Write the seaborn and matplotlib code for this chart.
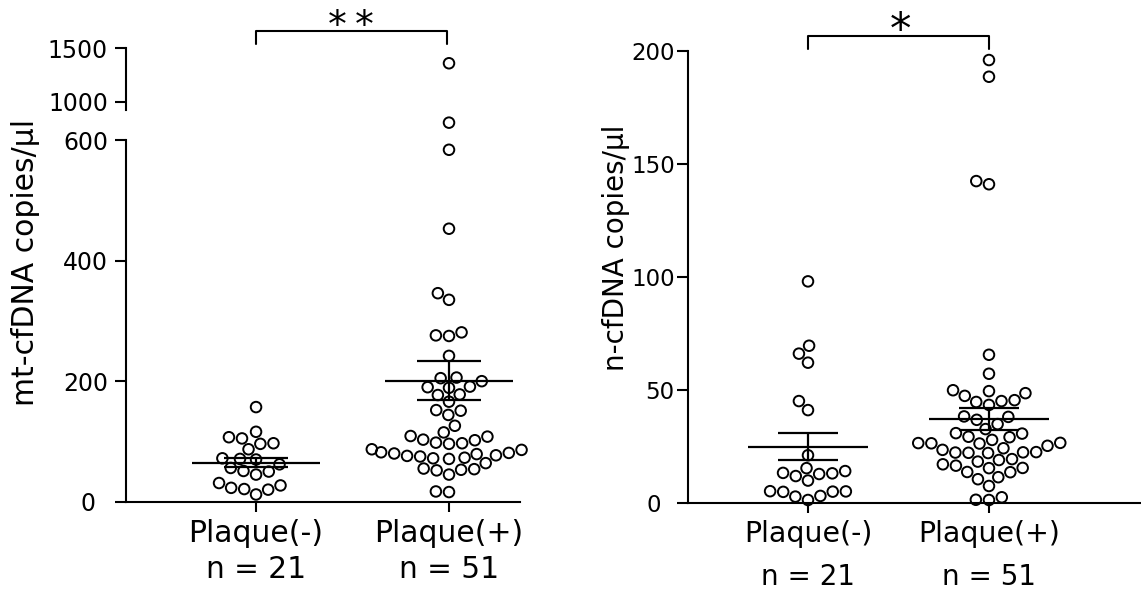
import numpy as np
import pandas as pd
import matplotlib
matplotlib.use("Agg")
import matplotlib.pyplot as plt
import seaborn as sns
from matplotlib.transforms import blended_transform_factory

# ---------------- data ----------------
groups = ["Plaque(-)", "Plaque(+)"]
group_n = ["n = 21", "n = 51"]

mt_neg = [157, 116, 105, 107, 97, 96, 87, 72, 70, 71, 62, 56, 50, 51, 45,
          31, 27, 20, 21, 23, 12]
mt_pos = [1360, 629, 584, 453, 346, 335, 281, 275, 276, 242, 205, 200, 206,
          190, 191, 189, 177, 178, 166, 151, 152, 144, 126, 115, 108, 109,
          102, 103, 97, 96, 98, 86, 87, 80, 81, 79, 82, 76, 77, 75, 72, 73,
          71, 64, 53, 54, 52, 55, 45, 16, 17]
mt_mean = [65, 201]
mt_sem = [8, 33]

n_neg = [98, 69.5, 66, 62, 45, 41, 21, 14, 12.7, 15.3, 13, 13.2, 11.8, 9.8,
         3, 4.9, 5.0, 4.8, 1.2, 5.1, 2.7]
n_pos = [196, 188.6, 141, 142.4, 65.5, 57.1, 49.8, 49.4, 48.5, 47.3, 45.4,
         45, 44.6, 43.3, 38.2, 38.0, 36.7, 34.8, 32.6, 30.8, 30.6, 29, 29.2,
         27.8, 26.3, 26.4, 26.2, 26.5, 25.2, 24.1, 23.4, 22.2, 22.3, 22.1,
         22.4, 22.0, 19.3, 18.9, 18.2, 17, 16.4, 15.3, 15.4, 13.5, 13.6, 11.3,
         10.4, 7.4, 1.2, 2.4, 1.3]
n_mean = [24.8, 37.1]
n_sem = [6, 5]

mt_lo_ticks = [0, 200, 400, 600]
mt_hi_ticks = [1000, 1500]
n_ticks = [0, 50, 100, 150, 200]

mt_ylabel = "mt-cfDNA copies/μl"
n_ylabel = "n-cfDNA copies/μl"

# ---------------- style ----------------
sns.set_style("ticks")
plt.rcParams["font.family"] = ["DejaVu Sans"]
plt.rcParams["axes.linewidth"] = 1.5
for k in ("text.color", "axes.labelcolor", "xtick.color", "ytick.color",
          "axes.edgecolor", "xtick.labelcolor", "ytick.labelcolor"):
    plt.rcParams[k] = "black"

W, H = 1141, 594
fig = plt.figure(figsize=(W / 100, H / 100), dpi=100)
fig.patch.set_facecolor("white")


def frame(l, t, r, b):
    return [l / W, 1 - b / H, (r - l) / W, (b - t) / H]


def fy(px):
    return 1 - px / H


mt_df = pd.DataFrame({
    "group": [groups[0]] * len(mt_neg) + [groups[1]] * len(mt_pos),
    "value": mt_neg + mt_pos,
})
n_df = pd.DataFrame({
    "group": [groups[0]] * len(n_neg) + [groups[1]] * len(n_pos),
    "value": n_neg + n_pos,
})

ax_lo = fig.add_axes(frame(126, 110, 520, 501.7))
ax_hi = fig.add_axes(frame(126, 40, 520, 110))
ax_r = fig.add_axes(frame(688, 51, 1141, 502.7))

swarm_kw = dict(x="group", y="value", order=groups, size=7.6, color="black",
                edgecolor="black", linewidth=1.4)

sns.swarmplot(data=mt_df[mt_df.value < 900], ax=ax_lo, **swarm_kw)
sns.swarmplot(data=mt_df[mt_df.value >= 900], ax=ax_hi, **swarm_kw)
sns.swarmplot(data=n_df, ax=ax_r, **swarm_kw)

# limits
ax_lo.set_xlim(-0.674, 1.368)
ax_hi.set_xlim(-0.674, 1.368)
ax_r.set_xlim(-0.663, 1.84)
ax_lo.set_ylim(0, 650)
ax_hi.set_ylim(922, 1578)
ax_r.set_ylim(0, 200)

for ax in (ax_lo, ax_hi, ax_r):
    ylo, yhi = ax.get_ylim()
    for coll in ax.collections:
        coll.set_facecolor("none")
        coll.set_edgecolor("black")
        off = np.asarray(coll.get_offsets(), dtype=float)
        if off.ndim == 2 and off.shape[0] > 0 and np.isfinite(off).all() \
                and ((off[:, 1] >= ylo) & (off[:, 1] <= yhi)).all():
            coll.set_clip_on(False)
    ax.set_xlabel("")
    ax.set_ylabel("")
    ax.set_facecolor("none")
    for s in ("top", "right"):
        ax.spines[s].set_visible(False)
    ax.tick_params(axis="both", length=8, width=1.5, color="black", labelcolor="black")

ax_lo.spines["left"].set_bounds(0, 600)
ax_hi.spines["left"].set_bounds(922, 1500)
ax_hi.spines["bottom"].set_visible(False)

# y ticks; the "0" label sits further left in the reference, so it is drawn separately
ax_lo.set_yticks(mt_lo_ticks, ["" if t == 0 else str(t) for t in mt_lo_ticks])
ax_hi.set_yticks(mt_hi_ticks, [str(t) for t in mt_hi_ticks])
ax_r.set_yticks(n_ticks, ["" if t == 0 else str(t) for t in n_ticks])
ax_lo.tick_params(axis="y", labelsize=17, pad=5)
ax_hi.tick_params(axis="y", labelsize=17, pad=5)
ax_r.tick_params(axis="y", labelsize=16.5, pad=1.5)
ax_hi.tick_params(axis="x", bottom=False, labelbottom=False)
for ax in (ax_lo, ax_r):
    ax.set_xticks([0, 1])
    ax.set_xticklabels(["", ""])
    ax.tick_params(axis="x", length=7)

ax_lo.text(-31 / 394, 0, "0", transform=blended_transform_factory(ax_lo.transAxes, ax_lo.transData),
           ha="right", va="center_baseline", fontsize=17)
ax_r.text(-27 / 453, 0, "0", transform=blended_transform_factory(ax_r.transAxes, ax_r.transData),
          ha="right", va="center_baseline", fontsize=16.5)

# mean +/- SEM
for ax, means, sems in ((ax_lo, mt_mean, mt_sem), (ax_r, n_mean, n_sem)):
    for i, (m, s) in enumerate(zip(means, sems)):
        ax.hlines(m, i - 0.33, i + 0.33, color="black", lw=1.6, zorder=5)
        ax.hlines([m - s, m + s], i - 0.167, i + 0.167, color="black", lw=1.6, zorder=5)
        ax.vlines(i, m - s, m + s, color="black", lw=1.6, zorder=5)

# significance brackets
ax_hi.plot([0, 0, 0.99, 0.99], [1540, 1662, 1662, 1540], color="black", lw=1.5, clip_on=False)
ax_r.plot([0, 0, 1, 1], [200.9, 206.7, 206.7, 200.9], color="black", lw=1.5, clip_on=False)
tr_l = blended_transform_factory(ax_lo.transData, fig.transFigure)
tr_r = blended_transform_factory(ax_r.transData, fig.transFigure)
for sx in (0.423, 0.56):
    fig.text(sx, fy(36.5), "*", transform=tr_l, ha="center", va="baseline", fontsize=27)
fig.text(0.51, fy(43), "*", transform=tr_r, ha="center", va="baseline", fontsize=31)

# category labels
for i in range(2):
    fig.text(i, fy(541.7), groups[i], transform=tr_l, ha="center", va="baseline", fontsize=21.5)
    fig.text(i, fy(578.3), group_n[i], transform=tr_l, ha="center", va="baseline", fontsize=21.3)
    fig.text(i, fy(541.7), groups[i], transform=tr_r, ha="center", va="baseline", fontsize=20.4)
    fig.text(i, fy(585), group_n[i], transform=tr_r, ha="center", va="baseline", fontsize=20)

# y labels
fig.text(26 / W, fy(263), mt_ylabel, rotation=90, ha="center", va="center", fontsize=21.5)
fig.text(616 / W, fy(248), n_ylabel, rotation=90, ha="center", va="center", fontsize=20)

fig.savefig("out.png", dpi=100, facecolor="white")
